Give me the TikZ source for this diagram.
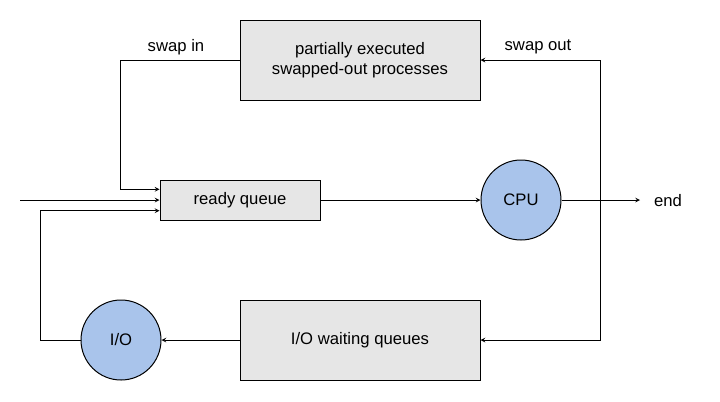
\documentclass[tikz,border=0pt]{standalone}
\usepackage{fontspec}
\setmainfont{Liberation Sans}
\usetikzlibrary{positioning}
\definecolor{boxgray}{RGB}{230,230,230}
\definecolor{cpublue}{RGB}{169,196,235}
\tikzset{every picture/.style={line width=0.75pt}}
\begin{document}
\begin{tikzpicture}[x=0.75pt,y=0.75pt,yscale=-1,xscale=1,
  font=\fontsize{12.5}{15}\selectfont,
  box/.style={draw,fill=boxgray,inner sep=0pt,align=center},
  proc/.style={draw,circle,fill=cpublue,minimum size=60pt,inner sep=0pt},
  flow/.style={-stealth,line width=0.6pt}]
\useasboundingbox (0,0) rectangle (720,401);
% boxes
\node [box,minimum width=180pt,minimum height=60pt] (swapped) at (360,60) {partially executed\\swapped-out processes};
\node [box,minimum width=120pt,minimum height=30pt] (ready) at (240,200) {ready queue};
\node [box,minimum width=180pt,minimum height=60pt] (iowait) at (360,340) {I/O waiting queues};
\node [proc] (cpu) at (521,200) {CPU};
\node [proc] (io) at (121,340) {I/O};
\node (end) at (668,201) {end};
% corner points
\coordinate (in) at (20,200);
\coordinate (split) at (600,200);
\coordinate (endtip) at (640,200);
% connectors
\draw [flow] (in) -- (ready.west);
\draw [flow] (ready.east) -- (cpu.west);
\draw [flow] (cpu.east) -- (endtip);
\draw [flow] (swapped.west) -- (120,60) |- ([yshift=-8pt]ready.west);
\draw [flow] (split) |- (swapped.east);
\draw [flow] (split) |- (iowait.east);
\draw [flow] (iowait.west) -- (io.east);
\draw [flow] (io.west) -- (40,340) |- ([yshift=8pt]ready.west);
% labels
\node at (176,47) {swap in};
\node at (538,47) {swap out};
\end{tikzpicture}
\end{document}
